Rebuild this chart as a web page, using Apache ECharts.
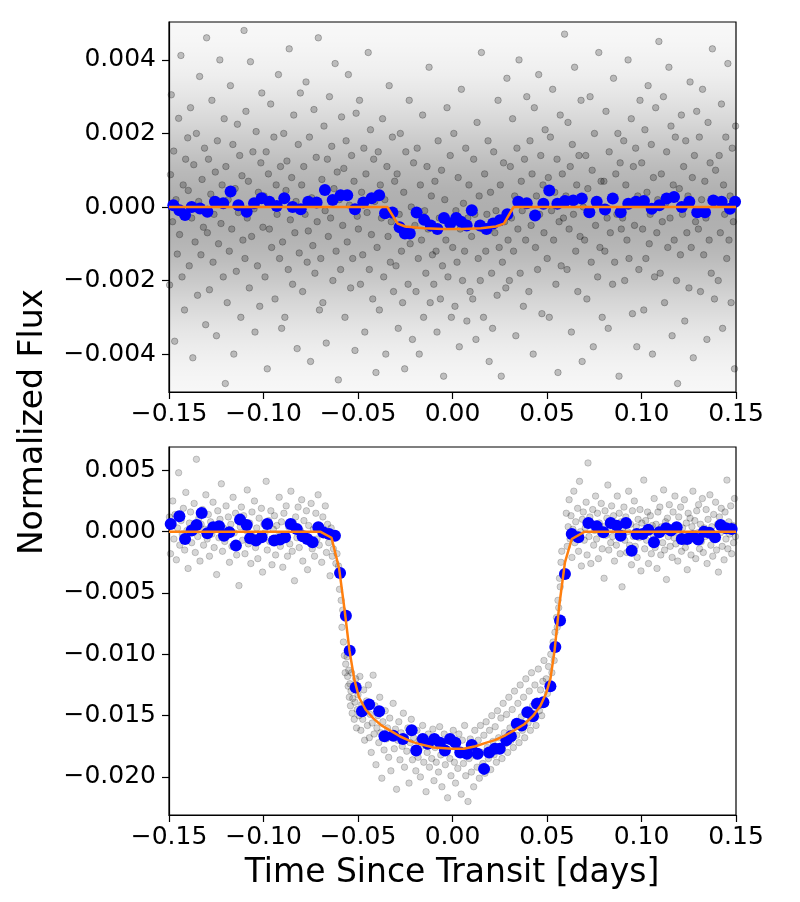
<!DOCTYPE html>
<html><head><meta charset="utf-8">
<script src="https://cdn.jsdelivr.net/npm/echarts@6/dist/echarts.min.js"></script>
<style>html,body{margin:0;padding:0;background:#fff}#c{width:800px;height:902px}</style>
</head><body><div id="c"></div>
<script>
// ---- tick values ----
const xTicks = [-0.15, -0.10, -0.05, 0.00, 0.05, 0.10, 0.15];
const topYTicks = [-0.004, -0.002, 0.000, 0.002, 0.004];
const bottomYTicks = [-0.020, -0.015, -0.010, -0.005, 0.000, 0.005];

// ---- top panel: binned points (blue) ----
const topBinX = [-0.1477,-0.1445,-0.1415,-0.1380,-0.1336,-0.1297,-0.1257,-0.1213,-0.1174,-0.1133,-0.1089,-0.1050,-0.1010,-0.0969,-0.0930,-0.0890,-0.0846,-0.0803,-0.0763,-0.0719,-0.0675,-0.0634,-0.0592,-0.0557,-0.0516,-0.0472,-0.0428,-0.0388,
 -0.0357,-0.0318,-0.0280,-0.0252,-0.0226,-0.0190,-0.0150,-0.0115,-0.0080,-0.0045,-0.0012,0.0020,0.0045,0.0075,0.0102,0.0146,0.0180,0.0215,0.0251,0.0290,
 0.0348,0.0393,0.0437,0.0481,0.0512,0.0555,0.0595,0.0639,0.0684,0.0724,0.0763,0.0807,0.0848,0.0890,0.0930,0.0971,0.1013,0.1054,0.1094,0.1133,0.1172,0.1213,0.1253,0.1295,0.1336,0.1380,0.1424,0.1468,0.1495];
const topBinY = [0.00005,-0.00009,-0.00022,0.0,-0.00004,-0.00013,0.00014,0.0001,0.00042,0.00005,-0.00013,0.0001,0.00024,0.00014,0.00003,0.00024,0.0,-0.00006,0.00014,0.00012,0.00046,0.00019,0.00032,0.00032,-0.00006,0.00012,0.00024,0.00032,
 -0.00017,-0.00015,-0.00055,-0.00072,-0.00072,-0.00015,-0.00035,-0.00050,-0.00060,-0.00030,-0.00045,-0.00030,-0.00040,-0.00050,-0.00009,-0.00050,-0.00060,-0.00045,-0.00036,-0.00020,
 0.00014,0.0001,-0.00023,0.00009,0.00045,0.00009,0.00016,0.00018,0.00023,-0.00014,0.00014,-0.00007,0.00023,-0.00014,0.00009,0.00014,0.00016,-0.00005,0.00005,0.00023,0.00027,0.0,0.00014,-0.00014,-0.00014,0.00018,0.00014,-0.00005,0.00014];

// ---- top panel: model (orange) ----
const topModelX = [-0.15,-0.0345,-0.0290,-0.0250,-0.0150,-0.0050,0.0050,0.0150,0.0230,0.0272,0.0323,0.15];
const topModelY = [0,0,-0.00045,-0.00053,-0.00058,-0.00060,-0.00060,-0.00058,-0.00053,-0.00045,0,0];

// ---- bottom panel: binned points (blue) ----
const bottomBinX = [-0.1491,-0.1445,-0.1415,-0.1380,-0.1354,-0.1327,-0.1297,-0.1266,-0.1235,-0.1209,-0.1181,-0.1146,-0.1124,-0.1089,-0.1071,-0.1040,-0.1010,-0.0980,-0.0944,-0.0913,-0.0886,-0.0856,-0.0824,-0.0793,-0.0768,-0.0740,-0.0710,-0.0684,-0.0653,-0.0622,
 -0.0595,-0.0564,-0.0544,-0.0512,-0.0479,-0.0441,-0.0388,-0.0360,-0.0313,-0.0262,-0.0216,-0.0192,-0.0157,-0.0131,-0.0096,-0.0066,-0.0040,-0.0013,0.0015,0.0041,0.0076,0.0102,0.0133,0.0167,0.0194,0.0224,0.0250,0.0285,0.0309,0.0340,0.0366,0.0396,0.0426,0.0447,0.0481,0.0518,0.0544,0.0569,0.0595,
 0.0631,0.0666,0.0719,0.0763,0.0798,0.0837,0.0869,0.0890,0.0918,0.0948,0.0975,0.1006,0.1036,0.1066,0.1094,0.1130,0.1156,0.1186,0.1213,0.1242,0.1271,0.1300,0.1331,0.1359,0.1389,0.1419,0.1447,0.1477];
const bottomBinY = [0.00063,0.00125,-0.0006,0.0001,0.00055,0.00152,-0.00013,0.00036,0.00044,-0.00033,-0.00005,-0.00114,0.00098,0.00055,-0.00054,-0.00073,-0.00046,0.00063,-0.00073,-0.00065,-0.00046,0.00063,0.00022,-0.00038,-0.0006,-0.00087,0.00036,-0.00005,-0.00019,-0.00033,
 -0.00337,-0.00685,-0.0097,-0.0127,-0.01464,-0.0141,-0.01464,-0.01668,-0.01663,-0.0169,-0.0162,-0.01785,-0.0169,-0.0173,-0.0169,-0.0172,-0.01785,-0.0169,-0.0172,-0.0180,-0.0181,-0.0174,-0.0181,-0.01934,-0.0180,-0.0177,-0.0177,-0.0170,-0.01668,-0.01567,-0.0158,-0.01472,-0.01505,-0.01404,-0.0139,-0.0126,-0.0094,-0.00725,-0.00345,
 -0.00019,-0.00046,0.00071,0.00044,-0.00005,0.00071,0.00049,-0.00033,0.00071,-0.00155,-0.00019,-0.00019,0.00016,-0.00087,-0.00005,0.00028,0.0001,0.00036,-0.0006,-0.0006,-0.00038,-0.00065,0.0,-0.0001,-0.00046,0.00055,0.00028,0.00022];

// ---- bottom panel: model (orange) ----
const bottomModelX = [-0.15,-0.070,-0.0640,-0.0600,-0.0570,-0.0545,-0.0520,-0.0495,-0.0460,-0.0420,-0.0376,-0.0320,-0.0277,-0.0220,-0.0178,-0.0100,0.0,0.0060,0.0122,0.0180,0.0224,0.0280,0.0326,0.0380,0.0427,0.0465,0.0495,0.0518,0.0540,0.0565,0.0595,0.0631,0.070,0.15];
const bottomModelY = [0,0,-0.0005,-0.0030,-0.0065,-0.0097,-0.0120,-0.0135,-0.0145,-0.0152,-0.0158,-0.0163,-0.0167,-0.0171,-0.0173,-0.0176,-0.0177,-0.0177,-0.0175,-0.0172,-0.0170,-0.0166,-0.0162,-0.0157,-0.0150,-0.0142,-0.0132,-0.0120,-0.0097,-0.0060,-0.0025,-0.0006,0,0];

// ---- unbinned points (gray), [time in 1e-4 d, flux in 1e-5] ----
const topGray = [
[-1497,-212],[-1492,88],[-1488,305],[-1481,-40],[-1475,152],[-1470,-365],[-1463,20],[-1456,-128],[-1449,241],[-1444,-75],[-1437,412],[-1431,-190],[-1425,60],[-1418,-280],[-1412,130],[-1406,-8],[-1401,188],
[-1398,45],[-1393,-160],[-1386,270],[-1380,-30],[-1374,-410],[-1369,115],[-1362,-95],[-1355,200],[-1349,-240],[-1343,15],[-1338,355],[-1331,-130],[-1325,75],[-1318,-55],[-1312,160],[-1306,-320],[-1301,460],
[-1297,-70],[-1291,130],[-1286,-225],[-1279,35],[-1273,290],[-1267,-150],[-1262,-20],[-1255,95],[-1249,-350],[-1244,180],[-1238,-100],[-1231,400],[-1225,-45],[-1219,60],[-1213,-190],[-1208,240],[-1202,-480],
[-1199,110],[-1192,-260],[-1187,20],[-1181,-120],[-1175,330],[-1168,-60],[-1162,170],[-1157,-400],[-1150,50],[-1144,-175],[-1138,225],[-1133,-15],[-1126,140],[-1120,-300],[-1114,85],[-1109,-90],[-1103,480],
[-1098,-140],[-1093,260],[-1086,-30],[-1080,70],[-1075,-220],[-1069,395],[-1063,-80],[-1056,150],[-1050,-5],[-1045,-340],[-1039,205],[-1032,-160],[-1027,40],[-1020,-270],[-1014,120],[-1009,310],[-1003,-55],
[-997,30],[-992,-190],[-986,150],[-980,-440],[-974,90],[-969,-60],[-962,280],[-957,-110],[-951,10],[-945,190],[-939,-250],[-933,60],[-928,-20],[-921,360],[-915,-140],[-910,110],[-904,-330],
[-899,-95],[-893,200],[-887,-300],[-881,45],[-876,125],[-869,-170],[-864,430],[-858,-35],[-851,80],[-846,-210],[-840,250],[-834,-70],[-828,15],[-822,-385],[-816,170],[-811,-125],[-805,310],
[-798,60],[-793,-230],[-787,110],[-780,-20],[-775,340],[-769,-150],[-763,-65],[-757,190],[-751,-420],[-745,25],[-739,-105],[-733,265],[-728,-180],[-721,135],[-716,-40],[-710,460],[-704,-280],
[-697,-140],[-691,75],[-686,-260],[-680,220],[-674,-10],[-668,-370],[-662,130],[-657,-80],[-651,300],[-645,-30],[-639,165],[-633,-200],[-627,50],[-621,390],[-616,-120],[-610,95],[-604,-470],
[-599,20],[-592,-170],[-587,245],[-581,-50],[-575,105],[-569,-300],[-563,180],[-557,-95],[-551,360],[-545,5],[-539,-220],[-534,140],[-528,-140],[-521,70],[-516,-390],[-510,255],[-504,-25],
[-498,-60],[-492,290],[-487,-210],[-481,40],[-475,-130],[-469,160],[-464,-340],[-458,90],[-452,-15],[-446,420],[-440,-170],[-434,210],[-429,-75],[-422,-250],[-417,130],[-411,15],[-405,-450],
[-399,-110],[-393,150],[-387,-280],[-382,60],[-376,-30],[-370,240],[-364,-190],[-358,20],[-353,-400],[-347,110],[-341,-80],[-335,330],[-329,-150],[-324,-40],[-318,190],[-312,-230],[-306,70],
[-299,-160],[-293,90],[-287,-330],[-282,-20],[-276,200],[-270,-120],[-264,-260],[-258,40],[-253,-440],[-247,150],[-241,-70],[-235,-210],[-229,290],[-224,-100],[-218,0],[-212,-360],[-206,120],
[-199,-50],[-193,-230],[-187,160],[-181,-140],[-176,-400],[-170,60],[-164,-90],[-158,250],[-153,-300],[-147,-10],[-141,-180],[-135,110],[-129,-60],[-124,380],[-118,-260],[-112,30],[-106,-130],
[-99,-210],[-93,70],[-87,-120],[-82,-340],[-76,180],[-70,-30],[-64,-250],[-58,100],[-53,-160],[-47,-460],[-41,20],[-35,-90],[-29,270],[-24,-190],[-18,-40],[-12,140],[-6,-300],
[1,-110],[7,200],[13,-270],[18,-10],[24,-150],[30,80],[36,-380],[41,-60],[47,320],[53,-200],[58,10],[64,-120],[70,160],[76,-310],[81,-30],[87,60],[93,-230],
[101,-80],[107,-250],[112,130],[118,-20],[124,-360],[130,230],[136,-140],[141,30],[147,-200],[153,420],[159,-60],[164,-300],[170,90],[176,-120],[182,-20],[188,180],[194,-420],
[201,40],[207,-180],[212,-330],[218,150],[224,-70],[230,-10],[236,-240],[241,290],[247,-110],[253,60],[258,-460],[264,-150],[270,120],[276,-40],[282,-220],[288,350],[294,-90],
[301,-200],[306,110],[312,-30],[318,240],[323,-120],[329,30],[335,-350],[341,160],[346,-60],[352,400],[358,-180],[364,70],[369,-10],[375,-270],[381,130],[387,-90],[393,300],
[399,10],[404,-230],[410,180],[416,-50],[421,90],[427,-400],[433,270],[439,-110],[444,30],[450,-170],[456,360],[461,-20],[467,140],[473,-290],[479,60],[484,-70],[490,210],
[501,-140],[507,80],[512,-300],[518,190],[524,-10],[530,320],[535,-90],[541,40],[547,-210],[553,130],[558,-450],[564,-40],[570,250],[575,-160],[581,90],[587,-30],[593,470],
[600,30],[606,-170],[611,230],[617,-60],[623,110],[629,-340],[634,170],[640,-20],[646,380],[652,-120],[657,60],[663,-230],[669,140],[675,-80],[680,290],[686,-420],[692,0],
[699,-90],[705,140],[711,-250],[716,50],[722,-20],[728,300],[734,-150],[739,100],[745,-380],[751,200],[757,-50],[763,20],[768,-190],[774,420],[780,-110],[786,70],[792,-300],
[801,70],[806,-120],[812,260],[818,-30],[824,-330],[829,150],[835,-70],[841,20],[847,-210],[852,350],[858,-150],[864,90],[870,-20],[875,200],[881,-460],[887,120],[893,-60],
[900,-30],[906,180],[911,-200],[917,60],[923,-90],[929,400],[934,-140],[940,10],[946,240],[952,-290],[957,110],[963,-50],[969,160],[975,-380],[980,30],[986,-170],[992,290],
[1001,120],[1006,-60],[1012,-280],[1018,210],[1023,-140],[1029,40],[1035,330],[1041,-100],[1046,-20],[1052,170],[1058,-400],[1063,80],[1069,-190],[1075,270],[1081,-70],[1086,20],[1092,450],
[1099,-180],[1105,90],[1110,-40],[1116,300],[1122,-260],[1128,10],[1133,150],[1139,-110],[1145,380],[1151,-30],[1156,220],[1162,-350],[1168,60],[1173,-90],[1179,190],[1185,-200],[1191,-480],
[1200,50],[1206,-130],[1211,250],[1217,-20],[1223,110],[1229,-310],[1234,180],[1240,-70],[1246,30],[1251,-220],[1257,340],[1263,-110],[1269,80],[1274,-410],[1280,140],[1286,-40],[1292,260],
[1301,-60],[1306,190],[1312,-230],[1318,20],[1323,320],[1329,-130],[1335,70],[1341,-30],[1346,-360],[1352,230],[1358,-90],[1363,120],[1369,-180],[1375,430],[1381,10],[1386,-250],[1392,100],
[1400,10],[1406,-200],[1411,140],[1417,-70],[1423,280],[1429,-330],[1434,60],[1440,-20],[1446,190],[1451,-140],[1457,390],[1463,-90],[1469,30],[1474,-260],[1480,160],[1486,-40],[1492,-440],[1498,220]
];

const bottomGray = [
[-1498,120],[-1492,-180],[-1487,60],[-1480,250],[-1474,-60],[-1468,140],[-1461,-230],[-1455,30],[-1449,480],[-1443,-110],[-1436,90],[-1430,-20],[-1424,190],[-1417,-150],[-1411,320],[-1405,10],[-1399,-300],[-1392,70],[-1386,160],[-1380,-90],
[-1373,40],[-1367,230],[-1361,-170],[-1355,590],[-1348,-40],[-1342,110],[-1336,-240],[-1330,60],[-1323,180],[-1317,-110],[-1311,20],[-1305,300],[-1298,-60],[-1292,140],[-1286,-200],[-1280,80],[-1273,-20],[-1267,240],[-1261,-130],[-1255,50],
[-1248,-350],[-1242,170],[-1236,-50],[-1230,100],[-1223,390],[-1217,-160],[-1211,30],[-1205,-80],[-1198,210],[-1192,-30],[-1186,120],[-1180,-250],[-1173,60],[-1167,-120],[-1161,280],[-1155,-10],[-1148,150],[-1142,-190],[-1136,90],[-1130,-440],
[-1123,40],[-1117,200],[-1111,-70],[-1105,130],[-1098,-180],[-1092,10],[-1086,340],[-1080,-100],[-1073,70],[-1067,-260],[-1061,160],[-1055,-40],[-1048,250],[-1042,-130],[-1036,30],[-1030,-220],[-1023,110],[-1017,-60],[-1011,190],[-1005,-330],
[-998,60],[-992,-10],[-986,410],[-980,-150],[-973,90],[-967,-80],[-961,170],[-955,-270],[-948,20],[-942,130],[-936,-190],[-930,50],[-923,-40],[-917,280],[-911,-120],[-905,80],[-898,-290],[-892,150],[-886,-30],[-880,210],
[-873,-200],[-867,40],[-861,-100],[-855,330],[-848,-160],[-842,70],[-836,-400],[-830,120],[-823,-50],[-817,200],[-811,-130],[-805,10],[-798,260],[-792,-240],[-786,90],[-780,-20],[-773,170],[-767,-310],[-761,50],[-755,-90],
[-748,230],[-742,-140],[-736,20],[-730,-200],[-723,150],[-717,-60],[-711,300],[-705,-110],[-698,40],[-692,-250],[-686,120],[-680,-30],[-673,210],[-667,-170],[-661,60],[-655,-90],[-648,-360],[-642,30],[-636,-200],[-630,-140],
[-624,-40],[-617,-260],[-611,-180],[-603,-280],[-598,-470],[-594,-350],[-589,-560],[-585,-780],[-581,-640],[-577,-900],[-572,-1010],[-568,-1150],[-565,-1080],
[-558,-1020],[-555,-1180],[-552,-1260],[-549,-1130],[-546,-1350],[-543,-1240],[-540,-1420],[-537,-1300],[-534,-1150],[-531,-1480],[-528,-1360],[-524,-1270],[-520,-1530],[-516,-1390],[-512,-1200],[-508,-1600],[-504,-1450],[-500,-1330],
[-495,-1500],[-490,-1180],[-485,-1620],[-480,-1410],[-475,-1530],[-470,-1290],[-465,-1700],[-460,-1460],[-455,-1380],[-450,-1580],[-445,-1250],[-440,-1680],[-435,-1490],[-430,-1800],[-425,-1560],[-420,-1170],[-415,-1650],[-410,-1420],
[-405,-1900],[-400,-1600],[-395,-1500],[-390,-1720],[-385,-1350],[-380,-1640],[-374,-2010],[-368,-1550],[-362,-1780],[-356,-1460],[-350,-1690],[-344,-1600],[-338,-1840],[-332,-1520],[-326,-1950],[-320,-1660],[-314,-1400],[-308,-1770],
[-302,-1610],[-296,-2100],[-290,-1700],[-284,-1550],[-278,-1860],[-272,-1640],[-266,-1750],[-260,-1480],[-254,-1920],[-248,-1680],[-242,-1790],[-236,-1600],[-230,-2050],[-224,-1720],[-218,-1530],[-212,-1860],[-206,-1680],[-200,-1770],
[-194,-1950],[-188,-1620],[-182,-1840],[-176,-1700],[-170,-2000],[-164,-1750],[-158,-1580],[-152,-1880],[-146,-1690],[-140,-2120],[-134,-1800],[-128,-1650],[-122,-1920],[-116,-1730],[-110,-1850],[-104,-1610],[-98,-2030],[-92,-1760],
[-86,-1880],[-80,-1700],[-74,-1960],[-68,-1590],[-62,-1820],[-56,-2080],[-50,-1740],[-44,-1650],[-38,-1900],[-32,-1780],[-26,-2170],[-20,-1690],[-14,-1850],[-8,-1990],[-2,-1720],[4,-1620],[10,-1880],[16,-2050],
[22,-1760],[28,-1930],[34,-1650],[40,-1810],[46,-2140],[52,-1700],[58,-1890],[64,-1580],[70,-1990],[76,-1780],[82,-2200],[88,-1850],[94,-1690],[100,-1960],[106,-1760],[112,-2080],[118,-1620],[124,-1830],
[130,-1920],[136,-1700],[142,-2010],[148,-1580],[154,-1800],[160,-1890],[166,-1660],[172,-1970],[178,-1550],[184,-1760],[190,-1850],[196,-1620],[202,-1940],[208,-1500],[214,-1710],[220,-1820],[226,-1590],[232,-1880],
[238,-1460],[244,-1680],[250,-1770],[256,-1520],[262,-1850],[268,-1400],[274,-1640],[280,-1730],[286,-1490],[292,-1800],[298,-1350],[304,-1600],[310,-1700],[316,-1450],[322,-1760],[328,-1300],[334,-1560],[340,-1660],
[346,-1400],[352,-1720],[358,-1250],[364,-1510],[370,-1620],[376,-1350],[382,-1680],[388,-1200],[394,-1470],[400,-1560],[406,-1300],[412,-1620],[418,-1150],[424,-1420],[430,-1520],[436,-1250],[442,-1580],[448,-1380],
[454,-1120],[460,-1460],[466,-1290],[472,-1500],[478,-1220],[484,-1050],[490,-1380],[496,-1200],[502,-1320],[508,-1100],[514,-1250],[520,-1000],[526,-1150],[532,-900],[538,-1050],
[542,-820],[546,-950],[550,-700],[554,-780],[558,-560],[562,-620],[566,-380],[570,-450],[574,-250],[578,-160],
[602,150],[607,-120],[612,40],[617,260],[622,-60],[627,130],[632,-210],[637,20],[642,330],[647,-90],[652,80],[657,-30],[662,190],[667,-160],[672,410],[677,0],[682,-280],[687,100],[692,160],[697,-70],
[702,30],[707,240],[712,-190],[717,560],[722,-40],[727,120],[732,-260],[737,60],[742,180],[747,-110],[752,10],[757,290],[762,-60],[767,150],[772,-220],[777,70],[782,-10],[787,230],[792,-140],[797,40],
[802,-380],[807,170],[812,-30],[817,110],[822,380],[827,-150],[832,20],[837,-90],[842,210],[847,-40],[852,130],[857,-240],[862,60],[867,-110],[872,290],[877,-20],[882,150],[887,-180],[892,80],[897,-450],
[902,30],[907,200],[912,-70],[917,120],[922,-170],[927,0],[932,330],[937,-110],[942,60],[947,-270],[952,170],[957,-40],[962,250],[967,-120],[972,40],[977,-210],[982,100],[987,-50],[992,180],[997,-320],
[1002,70],[1007,-20],[1012,420],[1017,-140],[1022,90],[1027,-70],[1032,160],[1037,-260],[1042,10],[1047,130],[1052,-180],[1057,50],[1062,-30],[1067,270],[1072,-130],[1077,60],[1082,-300],[1087,160],[1092,-10],[1097,200],
[1102,-190],[1107,40],[1112,-90],[1117,340],[1122,-150],[1127,80],[1132,-390],[1137,110],[1142,-40],[1147,220],[1152,-120],[1157,20],[1162,-210],[1167,160],[1172,-50],[1177,290],[1182,-100],[1187,50],[1192,-240],[1197,120],
[1202,-20],[1207,200],[1212,-160],[1217,30],[1222,-80],[1227,260],[1232,-130],[1237,70],[1242,-310],[1247,150],[1252,-30],[1257,110],[1262,-190],[1267,40],[1272,330],[1277,-60],[1282,90],[1287,-220],[1292,170],[1297,-10],
[1302,220],[1307,-140],[1312,60],[1317,-80],[1322,270],[1327,-170],[1332,30],[1337,-40],[1342,180],[1347,-260],[1352,100],[1357,-20],[1362,300],[1367,-110],[1372,40],[1377,-200],[1382,140],[1387,-50],[1392,240],[1397,-150],
[1402,60],[1407,-330],[1412,120],[1417,-10],[1422,190],[1427,-120],[1432,30],[1437,-230],[1442,160],[1447,-60],[1452,420],[1457,-140],[1462,80],[1467,-20],[1472,210],[1477,-180],[1482,50],[1487,-90],[1492,270],[1497,-40]
];

// ---- build options ----
const zip = (xs, ys) => xs.map((x, i) => [x, ys[i]]);
const scalePts = pts => pts.map(p => [p[0] / 1e4, p[1] / 1e5]);
const MINUS = '\u2212';
const fmt = d => v => {
  let s = Math.abs(v).toFixed(d);
  return (v < 0 && Math.abs(v) > 1e-12) ? MINUS + s : s;
};
const FONT = '"DejaVu Sans", "Liberation Sans", sans-serif';
const tickFont = { fontFamily: FONT, fontSize: 25, color: '#000' };

// soft density shading behind the top cloud (style only)
const cloudStops = [];
for (let i = 0; i <= 40; i++) {
  const t = i / 40;                 // 0 = top of plot, 1 = bottom
  const u = (t - 0.515) / 0.2;      // centred slightly below zero
  const a = 0.015 + 0.30 * Math.exp(-0.5 * u * u);
  cloudStops.push({ offset: t, color: 'rgba(0,0,0,' + a.toFixed(3) + ')' });
}

function xAxisCfg(gi) {
  return {
    type: 'value', gridIndex: gi, min: -0.15, max: 0.15,
    axisLine: { show: true, onZero: false, lineStyle: { color: '#000', width: 1.2 } },
    axisTick: { show: true, length: 7, inside: false, customValues: xTicks, lineStyle: { color: '#000', width: 1.2 } },
    axisLabel: Object.assign({ margin: 10, customValues: xTicks, formatter: fmt(2) }, tickFont),
    splitLine: { show: false }
  };
}
function yAxisCfg(gi, mn, mx, ticks, dec) {
  return {
    type: 'value', gridIndex: gi, min: mn, max: mx,
    axisLine: { show: true, onZero: false, lineStyle: { color: '#000', width: 1.2 } },
    axisTick: { show: true, length: 7, inside: false, customValues: ticks, lineStyle: { color: '#000', width: 1.2 } },
    axisLabel: Object.assign({ margin: 13, customValues: ticks, formatter: fmt(dec) }, tickFont),
    splitLine: { show: false }
  };
}
const grayStyle = a => ({ color: 'rgba(0,0,0,' + a + ')', borderColor: 'rgba(0,0,0,' + (a * 1.1).toFixed(3) + ')', borderWidth: 1, opacity: 1 });

const chart = echarts.init(document.getElementById('c'), null, { renderer: 'canvas' });
chart.setOption({
  backgroundColor: '#fff',
  animation: false,
  grid: [
    { left: 169, top: 22, width: 567, height: 370, show: true, borderColor: '#000', borderWidth: 1.2,
      backgroundColor: { type: 'linear', x: 0, y: 0, x2: 0, y2: 1, colorStops: cloudStops } },
    { left: 169, top: 447, width: 567, height: 368, show: true, borderColor: '#000', borderWidth: 1.2, backgroundColor: 'transparent' }
  ],
  xAxis: [xAxisCfg(0), xAxisCfg(1)],
  yAxis: [
    yAxisCfg(0, -0.00503, 0.00503, topYTicks, 3),
    yAxisCfg(1, -0.0231, 0.0069, bottomYTicks, 3)
  ],
  series: [
    { type: 'scatter', xAxisIndex: 0, yAxisIndex: 0, data: scalePts(topGray), symbol: 'circle', symbolSize: 6.5, itemStyle: grayStyle(0.22), z: 1, silent: true, clip: true },
    { type: 'scatter', xAxisIndex: 0, yAxisIndex: 0, data: zip(topBinX, topBinY), symbol: 'circle', symbolSize: 12, itemStyle: { color: '#0000ff', opacity: 1 }, z: 3, silent: true, clip: true },
    { type: 'line', xAxisIndex: 0, yAxisIndex: 0, data: zip(topModelX, topModelY), showSymbol: false, symbol: 'none', lineStyle: { color: '#ff7f0e', width: 2.5 }, z: 4, silent: true, clip: true },
    { type: 'scatter', xAxisIndex: 1, yAxisIndex: 1, data: scalePts(bottomGray), symbol: 'circle', symbolSize: 6.5, itemStyle: grayStyle(0.16), z: 1, silent: true, clip: true },
    { type: 'scatter', xAxisIndex: 1, yAxisIndex: 1, data: zip(bottomBinX, bottomBinY), symbol: 'circle', symbolSize: 12, itemStyle: { color: '#0000ff', opacity: 1 }, z: 3, silent: true, clip: true },
    { type: 'line', xAxisIndex: 1, yAxisIndex: 1, data: zip(bottomModelX, bottomModelY), showSymbol: false, symbol: 'none', lineStyle: { color: '#ff7f0e', width: 2.5 }, z: 4, silent: true, clip: true }
  ],
  graphic: [
    { type: 'text', x: 33, y: 422, rotation: Math.PI / 2,
      style: { text: 'Normalized Flux', font: '33px ' + FONT, fill: '#000', textAlign: 'center', textVerticalAlign: 'middle' } },
    { type: 'text', x: 452, y: 873,
      style: { text: 'Time Since Transit [days]', font: '33px ' + FONT, fill: '#000', textAlign: 'center', textVerticalAlign: 'middle' } }
  ]
});
</script>
</body></html>
